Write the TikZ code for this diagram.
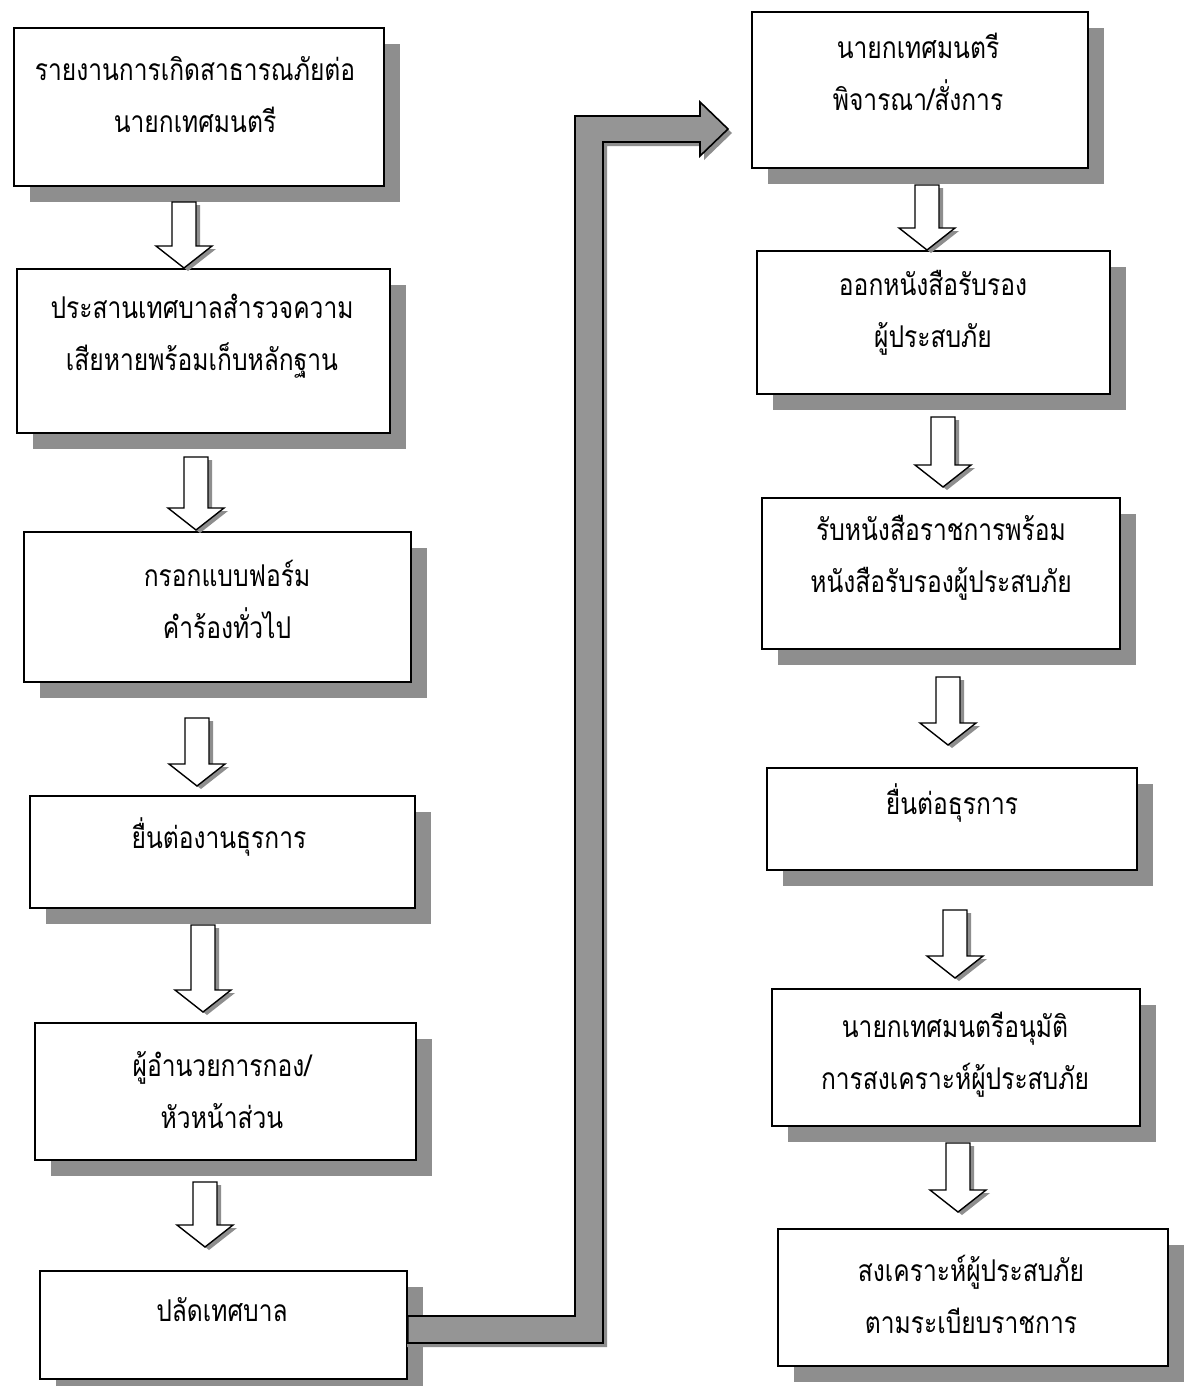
\documentclass[tikz,border=0pt]{standalone}
\usepackage{fontspec}
\newfontfamily\thaifont[Script=Thai,FakeStretch=0.82]{Loma}
\usetikzlibrary{calc,fit,shadows}
\definecolor{shadowgray}{HTML}{8E8E8E}
\definecolor{bandgray}{HTML}{959595}

% outline of a hollow down arrow from shaft top #1 to tip #2 (same x)
\newcommand\hollowarrow[2]{%
  \fill[shadowgray] ($(#1)+(-8,3)$) -- ($(#1)+(16,3)$) -- ($(#2)+(16,-19)$)
    -- ($(#2)+(32,-19)$) -- ($(#2)+(4,3)$) -- ($(#2)+(-24,-19)$)
    -- ($(#2)+(-8,-19)$) -- cycle;
  \draw[hollow] ($(#1)+(-12,0)$) -- ($(#1)+(12,0)$) -- ($(#2)+(12,-22)$)
    -- ($(#2)+(28,-22)$) -- (#2) -- ($(#2)+(-28,-22)$)
    -- ($(#2)+(-12,-22)$) -- cycle;
}

\begin{document}
\begin{tikzpicture}[x=0.5pt,y=-0.5pt,
  box/.style={draw=black, line width=0.8pt, fill=white, inner sep=0pt,
    drop shadow={shadow xshift=8pt, shadow yshift=-8pt, fill=shadowgray, opacity=1}},
  steptext/.style={font=\thaifont\fontsize{15}{26}\selectfont, align=center, inner sep=0pt},
  hollow/.style={draw=black, line width=0.7pt, fill=white, line join=miter},
  band/.style={draw=black, line width=0.8pt, fill=bandgray, line join=miter},
]
\clip (0,0) rectangle (1185,1386);
\fill[white] (0,0) rectangle (1185,1386);

% left column
\node[box, fit={(14,28) (384,186)}] (l1) {};
\node[box, fit={(17,269) (390,433)}] (l2) {};
\node[box, fit={(24,532) (411,682)}] (l3) {};
\node[box, fit={(30,796) (415,908)}] (l4) {};
\node[box, fit={(35,1023) (416,1160)}] (l5) {};
\node[box, fit={(40,1271) (407,1379)}] (l6) {};

% right column
\node[box, fit={(752,12) (1088,168)}] (r1) {};
\node[box, fit={(757,251) (1110,394)}] (r2) {};
\node[box, fit={(762,498) (1120,649)}] (r3) {};
\node[box, fit={(767,768) (1137,870)}] (r4) {};
\node[box, fit={(772,989) (1140,1126)}] (r5) {};
\node[box, fit={(778,1229) (1168,1366)}] (r6) {};

% labels
\node[steptext] (l1t) at (195,95) {รายงานการเกิดสาธารณภัยต่อ\\นายกเทศมนตรี};
\node[steptext] (l2t) at (202,336) {ประสานเทศบาลสำรวจความ\\เสียหายพร้อมเก็บหลักฐาน};
\node[steptext] (l3t) at (227,599) {กรอกแบบฟอร์ม\\คำร้องทั่วไป};
\node[steptext] (l4t) at (219,837) {ยื่นต่องานธุรการ};
\node[steptext] (l5t) at (222,1090) {ผู้อำนวยการกอง/\\หัวหน้าส่วน};
\node[steptext] (l6t) at (222,1310) {ปลัดเทศบาล};
\node[steptext] (r1t) at (918,72) {นายกเทศมนตรี\\พิจารณา/สั่งการ};
\node[steptext] (r2t) at (933,313) {ออกหนังสือรับรอง\\ผู้ประสบภัย};
\node[steptext] (r3t) at (941,558) {รับหนังสือราชการพร้อม\\หนังสือรับรองผู้ประสบภัย};
\node[steptext] (r4t) at (952,803) {ยื่นต่อธุรการ};
\node[steptext] (r5t) at (955,1055) {นายกเทศมนตรีอนุมัติ\\การสงเคราะห์ผู้ประสบภัย};
\node[steptext] (r6t) at (971,1294) {สงเคราะห์ผู้ประสบภัย\\ตามระเบียบราชการ};

% hollow arrows between steps
\coordinate (a1s) at (184,202);  \coordinate (a1e) at (184,268);
\coordinate (a2s) at (196,457);  \coordinate (a2e) at (196,530);
\coordinate (a3s) at (197,718);  \coordinate (a3e) at (197,786);
\coordinate (a4s) at (203,925);  \coordinate (a4e) at (203,1012);
\coordinate (a5s) at (205,1182); \coordinate (a5e) at (205,1247);
\coordinate (b1s) at (927,185);  \coordinate (b1e) at (927,250);
\coordinate (b2s) at (943,417);  \coordinate (b2e) at (943,487);
\coordinate (b3s) at (948,677);  \coordinate (b3e) at (948,745);
\coordinate (b4s) at (955,910);  \coordinate (b4e) at (955,978);
\coordinate (b5s) at (958,1143); \coordinate (b5e) at (958,1212);
\hollowarrow{a1s}{a1e}
\hollowarrow{a2s}{a2e}
\hollowarrow{a3s}{a3e}
\hollowarrow{a4s}{a4e}
\hollowarrow{a5s}{a5e}
\hollowarrow{b1s}{b1e}
\hollowarrow{b2s}{b2e}
\hollowarrow{b3s}{b3e}
\hollowarrow{b4s}{b4e}
\hollowarrow{b5s}{b5e}

% bent connector from the last left step to the first right step
\coordinate (bigtip) at (728,129);
\fill[shadowgray] (407,1347) -- (607,1347) -- (607,146) -- (704,146) -- (704,160)
  -- (732,133) -- (704,106) -- (704,120) -- (579,120) -- (579,1320) -- (407,1320) -- cycle;
\filldraw[band] (l6.east |- 0,1343) -- (603,1343) -- (603,142) -- (700,142) -- (700,156)
  -- (bigtip) -- (700,102) -- (700,116) -- (575,116) -- (575,1316)
  -- (l6.east |- 0,1316) -- cycle;
\end{tikzpicture}
\end{document}
